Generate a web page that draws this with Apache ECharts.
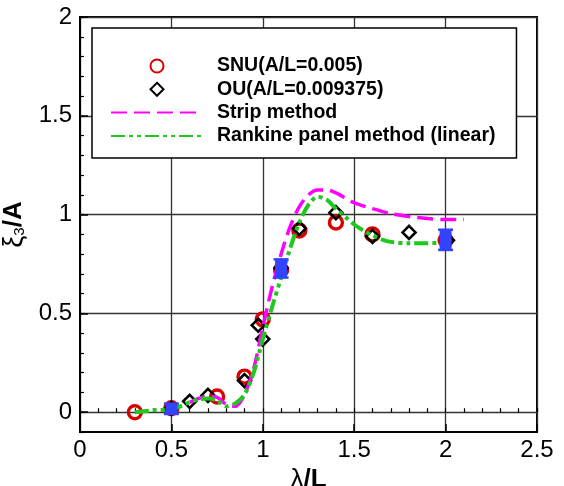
<!DOCTYPE html>
<html><head><meta charset="utf-8">
<script src="https://cdn.jsdelivr.net/npm/echarts@6/dist/echarts.min.js"></script>
<style>html,body{margin:0;padding:0;background:#fff}#c{width:564px;height:486px}</style>
</head><body><div id="c"></div>
<script>
// ---- data ----
const snuX = [0.3, 0.5, 0.75, 0.9, 1.0, 1.1, 1.2, 1.4, 1.6, 2.0];
const snuY = [0.0, 0.02, 0.08, 0.18, 0.47, 0.72, 0.92, 0.96, 0.90, 0.87];

const ouX = [0.5, 0.6, 0.7, 0.9, 0.975, 1.0, 1.1, 1.2, 1.4, 1.6, 1.8, 2.01];
const ouY = [0.02, 0.055, 0.085, 0.16, 0.44, 0.37, 0.73, 0.93, 1.01, 0.89, 0.91, 0.87];

const stripX = [0.6, 0.65, 0.7, 0.75, 0.8, 0.85, 0.9, 0.95, 1.0, 1.05, 1.1, 1.15, 1.2, 1.25, 1.3, 1.35, 1.4, 1.5, 1.6, 1.7, 1.8, 1.9, 2.0, 2.1];
const stripY = [0.05, 0.07, 0.08, 0.075, 0.04, 0.03, 0.09, 0.22, 0.43, 0.63, 0.80, 0.94, 1.04, 1.10, 1.125, 1.125, 1.11, 1.06, 1.03, 1.005, 0.99, 0.98, 0.975, 0.975];

const rankX = [0.3, 0.4, 0.5, 0.55, 0.6, 0.65, 0.7, 0.75, 0.8, 0.85, 0.9, 0.95, 1.0, 1.05, 1.1, 1.15, 1.2, 1.25, 1.3, 1.35, 1.4, 1.45, 1.5, 1.55, 1.6, 1.65, 1.7, 1.8, 1.9, 2.0];
const rankY = [0.0, 0.01, 0.015, 0.03, 0.05, 0.065, 0.07, 0.06, 0.03, 0.045, 0.09, 0.2, 0.37, 0.53, 0.68, 0.83, 0.96, 1.05, 1.09, 1.075, 1.03, 0.99, 0.95, 0.92, 0.895, 0.875, 0.862, 0.855, 0.855, 0.86];

const blueX = [0.5, 1.1, 2.0];
const blueLow = [-0.01, 0.68, 0.82];
const blueHigh = [0.045, 0.775, 0.925];

const xTicks = [0, 0.5, 1, 1.5, 2, 2.5];
const yTicks = [0, 0.5, 1, 1.5, 2];

// ---- chart ----
const FONT = 'Liberation Sans, Arial, sans-serif';
const zip = (a, b) => a.map((v, i) => [v, b[i]]);
const chart = echarts.init(document.getElementById('c'), null, {renderer: 'canvas'});

chart.setOption({
  animation: false,
  backgroundColor: '#fff',
  grid: {left: 80, right: 27, top: 17, bottom: 54, show: true, borderColor: '#000', borderWidth: 2,
    backgroundColor: 'transparent', outerBoundsMode: 'none', containLabel: false},
  legend: {
    data: [
      {name: 'SNU(A/L=0.005)', icon: 'circle'},
      {name: 'OU(A/L=0.009375)', icon: 'path://M5,0L10,5L5,10L0,5Z'},
      {name: 'Strip method', itemStyle: {opacity: 0}},
      {name: 'Rankine panel method (linear)', itemStyle: {opacity: 0}}
    ],
    orient: 'vertical', left: 92, top: 28,
    itemWidth: 92, itemHeight: 13, itemGap: 3.3,
    symbolKeepAspect: true,
    padding: [28, 21, 12, 18],
    backgroundColor: '#fff', borderColor: '#000', borderWidth: 1.5,
    textStyle: {fontFamily: FONT, fontWeight: 'bold', fontSize: 19.5, color: '#000', lineHeight: 20, padding: [0, 0, 0, 9]},
    selectedMode: false
  },
  xAxis: [{
    type: 'value', min: 0, max: 2.5, interval: 0.5,
    name: '{g|λ}{b|/L}', nameLocation: 'middle', nameGap: 17,
    nameTextStyle: {rich: {g: {fontFamily: FONT, fontSize: 26, color: '#000'}, b: {fontFamily: FONT, fontSize: 26, fontWeight: 'bold', color: '#000'}}},
    axisLine: {show: true, onZero: false, lineStyle: {color: '#000', width: 2}},
    axisTick: {show: true, inside: true, length: 8, lineStyle: {color: '#000', width: 1.5}},
    axisLabel: {fontFamily: FONT, fontSize: 24, color: '#000', margin: 6,
      customValues: xTicks, formatter: v => String(v)},
    splitLine: {show: true, lineStyle: {color: '#333', width: 1.3}}
  }, {
    type: 'value', min: 0, max: 2.5, interval: 0.1, position: 'bottom', offset: 0,
    axisLine: {show: false},
    axisTick: {show: true, inside: true, length: 4, lineStyle: {color: '#000', width: 1.2}},
    axisLabel: {show: false},
    splitLine: {show: false}
  }],
  yAxis: [{
    type: 'value', min: -0.1, max: 2,
    name: '{g|ξ}{s|3}{b|/A}', nameLocation: 'middle', nameGap: 38, nameRotate: 90,
    nameTextStyle: {rich: {
      g: {fontFamily: FONT, fontSize: 27, color: '#000'},
      s: {fontFamily: FONT, fontSize: 15, color: '#000', verticalAlign: 'bottom', padding: [12, 0, 0, 0]},
      b: {fontFamily: FONT, fontSize: 26, fontWeight: 'bold', color: '#000'}}},
    axisLine: {show: true, onZero: false, lineStyle: {color: '#000', width: 2}},
    axisTick: {show: true, inside: true, length: 8, customValues: yTicks, lineStyle: {color: '#000', width: 1.5}},
    axisLabel: {fontFamily: FONT, fontSize: 24, color: '#000', margin: 8, customValues: yTicks, formatter: v => String(v)},
    splitLine: {show: true, lineStyle: {color: '#333', width: 1.3}}
  }, {
    type: 'value', min: -0.1, max: 2, interval: 0.1, position: 'left', offset: 0,
    axisLine: {show: false},
    axisTick: {show: true, inside: true, length: 4, lineStyle: {color: '#000', width: 1.2}},
    axisLabel: {show: false},
    splitLine: {show: false}
  }],
  series: [
    {name: 'SNU(A/L=0.005)', type: 'scatter', data: zip(snuX, snuY), symbol: 'circle', symbolSize: 13, z: 2,
      itemStyle: {color: 'rgba(255,255,255,0)', borderColor: '#d80000', borderWidth: 3.4, opacity: 1}},
    {name: 'OU(A/L=0.009375)', type: 'scatter', data: zip(ouX, ouY), symbol: 'diamond', symbolSize: 13, z: 3,
      itemStyle: {color: 'rgba(255,255,255,0)', borderColor: '#000', borderWidth: 2.6, opacity: 1}},
    {name: 'Strip method', type: 'line', data: zip(stripX, stripY), symbol: 'none', smooth: 0.3, z: 4,
      lineStyle: {color: '#ff00ff', width: 3.5, type: [16, 7], cap: 'butt'}, itemStyle: {color: '#ff00ff'}},
    {name: 'Rankine panel method (linear)', type: 'line', data: zip(rankX, rankY), symbol: 'none', smooth: 0.3, z: 5,
      lineStyle: {color: '#1ec81e', width: 4, type: [14, 4, 4, 4, 4, 4], cap: 'butt'}, itemStyle: {color: '#1ec81e'}},
    {name: 'err', type: 'custom', z: 6,
      data: blueX.map((x, i) => [x, blueLow[i], blueHigh[i]]),
      encode: {x: 0, y: [1, 2]},
      renderItem: function (params, api) {
        const x = api.value(0), lo = api.value(1), hi = api.value(2);
        const pLo = api.coord([x, lo]), pHi = api.coord([x, hi]);
        const w = 12, cw = 15, col = '#3344ff';
        return {type: 'group', children: [
          {type: 'rect', shape: {x: pLo[0] - w / 2, y: pHi[1], width: w, height: pLo[1] - pHi[1]}, style: {fill: col}},
          {type: 'rect', shape: {x: pLo[0] - cw / 2, y: pHi[1] - 1, width: cw, height: 2.5}, style: {fill: col}},
          {type: 'rect', shape: {x: pLo[0] - cw / 2, y: pLo[1] - 1.5, width: cw, height: 2.5}, style: {fill: col}}
        ]};
      }}
  ]
});
</script>
</body></html>
